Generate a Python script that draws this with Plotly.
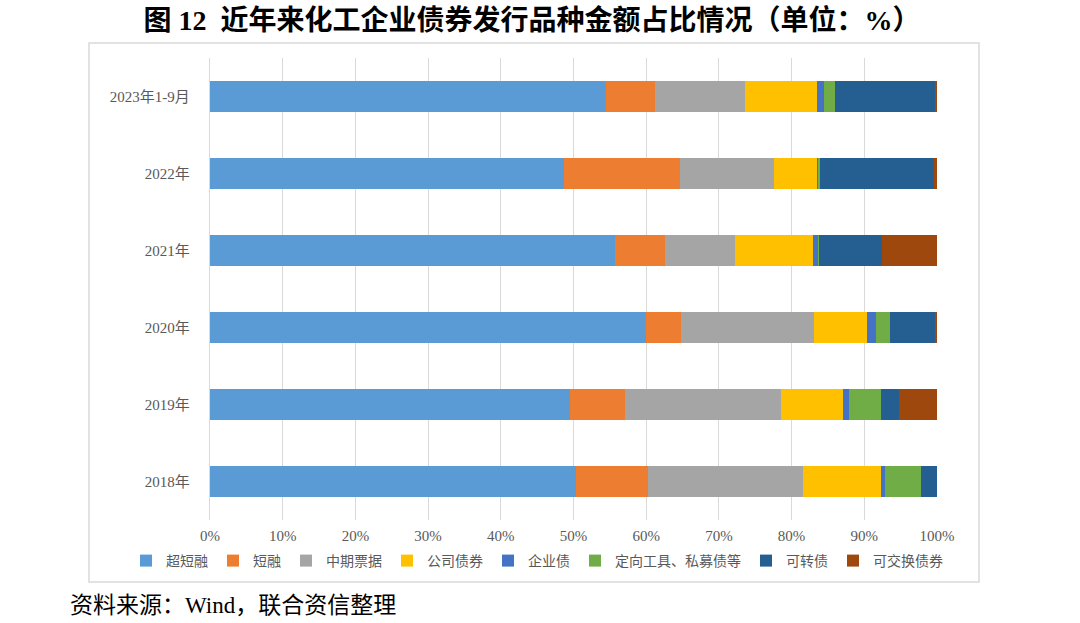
import plotly.graph_objects as go

categories = ["2018年", "2019年", "2020年", "2021年", "2022年", "2023年1-9月"]

series_names = ["超短融", "短融", "中期票据", "公司债券", "企业债",
                "定向工具、私募债等", "可转债", "可交换债券"]

chao_duan_rong = [50.4, 49.5, 60.0, 55.7, 48.7, 54.5]
duan_rong = [9.8, 7.6, 4.8, 6.9, 15.9, 6.7]
zhong_qi_piao_ju = [21.3, 21.4, 18.3, 9.6, 13.0, 12.4]
gong_si_zhai = [10.8, 8.6, 7.3, 10.7, 5.9, 9.9]
qi_ye_zhai = [0.6, 0.8, 1.2, 0.8, 0.1, 1.0]
ding_xiang = [4.9, 4.4, 2.0, 0.1, 0.3, 1.5]
ke_zhuan_zhai = [2.2, 2.5, 6.1, 8.7, 15.7, 13.7]
ke_jiao_huan = [0.0, 5.2, 0.3, 7.5, 0.4, 0.3]

series_values = [chao_duan_rong, duan_rong, zhong_qi_piao_ju, gong_si_zhai,
                 qi_ye_zhai, ding_xiang, ke_zhuan_zhai, ke_jiao_huan]

colors = ["#5B9BD5", "#ED7D31", "#A5A5A5", "#FFC000",
          "#4472C4", "#70AD47", "#255E91", "#9E480E"]

tick_vals = [0, 10, 20, 30, 40, 50, 60, 70, 80, 90, 100]
tick_text = [f"{v}%" for v in tick_vals]

fig = go.Figure()
for name, vals, col in zip(series_names, series_values, colors):
    fig.add_trace(go.Bar(
        y=categories, x=vals, name=name, orientation="h",
        marker=dict(color=col, line=dict(width=0)),
        hoverinfo="x+name",
    ))

L, R, T, B = 210, 143, 58, 103
W, H = 1080, 623
pw, ph = W - L - R, H - T - B

def px(x):
    return (x - L) / pw

def py(y):
    return (H - B - y) / ph

fig.update_layout(
    width=W, height=H,
    margin=dict(l=L, r=R, t=T, b=B),
    barmode="stack",
    bargap=0.6,
    plot_bgcolor="white",
    paper_bgcolor="white",
    showlegend=True,
    legend=dict(
        orientation="h",
        x=px(126), xanchor="left",
        y=py(561), yanchor="middle",
        traceorder="normal",
        bgcolor="rgba(0,0,0,0)",
        font=dict(family="Noto Sans CJK SC", size=14, color="#595959"),
        itemclick=False, tracegroupgap=0,
    ),
    title=dict(
        text="<b>图 12  近年来化工企业债券发行品种金额占比情况（单位：%）</b>",
        x=532 / W, xanchor="center", xref="container",
        y=1 - 20 / H, yanchor="middle", yref="container",
        font=dict(family="Liberation Serif, Noto Sans CJK SC", size=28, color="#000000"),
    ),
    xaxis=dict(
        range=[0, 100], tickvals=tick_vals, ticktext=tick_text,
        showgrid=True, gridcolor="#d9d9d9", gridwidth=1.3,
        zeroline=False, showline=False, ticks="",
        tickfont=dict(family="Liberation Serif", size=15, color="#595959"),
        ticklabelstandoff=5, fixedrange=True,
    ),
    yaxis=dict(
        categoryorder="array", categoryarray=categories,
        showgrid=False, zeroline=False,
        showline=True, linecolor="#d9d9d9", linewidth=1.3,
        ticks="", ticklabelstandoff=16,
        tickfont=dict(family="Liberation Serif, Noto Sans CJK SC", size=15, color="#595959"),
        fixedrange=True,
    ),
    shapes=[dict(
        type="rect", xref="paper", yref="paper",
        x0=px(89), x1=px(979), y0=py(582), y1=py(43),
        line=dict(color="#d9d9d9", width=1.5), fillcolor="rgba(0,0,0,0)",
        layer="below",
    )],
    annotations=[dict(
        text="资料来源：Wind，联合资信整理",
        xref="paper", yref="paper", x=px(68), y=py(605),
        xanchor="left", yanchor="middle", showarrow=False,
        font=dict(family="Liberation Serif, Noto Sans CJK SC", size=23, color="#000000"),
    )],
)

fig.write_html("out.html")
